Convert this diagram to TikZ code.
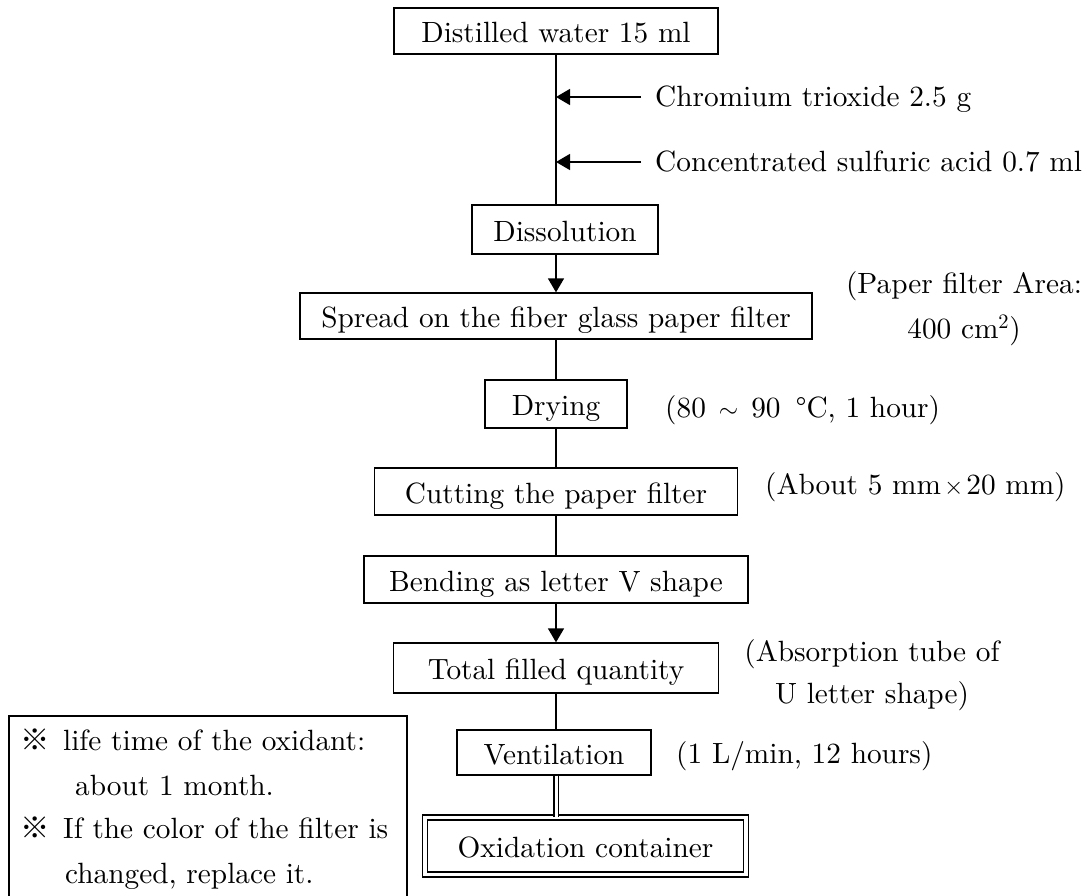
\documentclass[tikz,border=0pt]{standalone}
\usepackage{fontspec}
\setmainfont{lmroman10-regular}[Extension=.otf]
\newfontfamily\cjk{Noto Sans CJK JP}
\usetikzlibrary{arrows.meta}
\begin{document}
\begin{tikzpicture}[x=1pt,y=-1pt,
  every node/.style={font=\fontsize{29.3}{44}\selectfont},
  stepbox/.style={draw, line width=1.3pt, inner sep=0pt, text height=23pt, text depth=0pt},
  link/.style={line width=1.5pt},
  arr/.style={line width=1.5pt, -{Triangle[length=14pt,width=16pt]}},
  lbl/.style={anchor=base west, inner sep=0pt},
  clbl/.style={anchor=base, inner sep=0pt},
]
\useasboundingbox (0,0) rectangle (1087,896);

% process steps
\node[stepbox, minimum width=324pt, minimum height=46pt] (water) at (556,31) {Distilled water 15 ml};
\node[stepbox, minimum width=186pt, minimum height=49pt] (dissolve) at (565,229.5) {Dissolution};
\node[stepbox, minimum width=512pt, minimum height=46pt] (spread) at (556,316) {Spread on the fiber glass paper filter};
\node[stepbox, minimum width=142pt, minimum height=48pt] (dry) at (556,404) {Drying};
\node[stepbox, minimum width=363pt, minimum height=47pt] (cut) at (556,491.5) {Cutting the paper filter};
\node[stepbox, minimum width=384pt, minimum height=47pt] (bend) at (556,579.5) {Bending as letter V shape};
\node[stepbox, minimum width=325pt, minimum height=50pt] (total) at (556,668) {Total filled quantity};
\node[stepbox, minimum width=194pt, minimum height=45pt] (vent) at (554,752.5) {Ventilation};
\node[stepbox, double, double distance=3.8pt, line width=1.2pt, minimum width=321pt, minimum height=57pt] (oxid) at (585.5,846) {Oxidation container};

% trunk and connectors
\draw[link] (water.south) -- (water.south |- dissolve.north);
\draw[arr] (water.south |- dissolve.south) -- (spread.north);
\draw[link] (spread.south) -- (dry.north);
\draw[link] (dry.south) -- (cut.north);
\draw[link] (cut.south) -- (bend.north);
\draw[arr] (bend.south) -- (total.north);
\draw[link] (total.south) -- (total.south |- vent.north);
\draw[line width=1.1pt, double, double distance=3pt] (total.south |- vent.south) -- (total.south |- oxid.north);

% reagents added to the water
\coordinate (in1) at (641,97);
\coordinate (in2) at (641,162);
\draw[arr] (in1) -- (in1 -| water.south);
\draw[arr] (in2) -- (in2 -| water.south);
\node[lbl] (chrom) at (655,107) {Chromium trioxide 2.5 g};
\node[lbl] (acid) at (655,172) {Concentrated sulfuric acid 0.7 ml};

% conditions
\node[clbl] (area1) at (964,293) {(Paper filter Area:};
\node[clbl] (area2) at (964,338) {400 cm\textsuperscript{2})};
\node[lbl] (dryinfo) at (665,417) {(80\hspace{13pt}$\sim$\hspace{13pt}90\hspace{15pt}°C, 1 hour)};
\node[lbl] (cutinfo) at (765,494) {(About 5 mm\kern3pt$\times$\kern3pt20 mm)};
\node[clbl] (tube1) at (872,661) {(Absorption tube of};
\node[clbl] (tube2) at (872,703) {U letter shape)};
\node[lbl] (ventinfo) at (676,763) {(1 L/min, 12 hours)};

% notes
\draw[line width=1.3pt] (9,896) -- (9,716) -- (407,716) -- (407,896);
\node[lbl] (m1) at (20,750) {{\cjk ※}};
\node[lbl] (n1) at (63,750) {life time of the oxidant:};
\node[lbl] (n2) at (75,795) {about 1 month.};
\node[lbl] (m2) at (20,838) {{\cjk ※}};
\node[lbl] (n3) at (63,838) {If the color of the filter is};
\node[lbl] (n4) at (65,883) {changed, replace it.};
\end{tikzpicture}
\end{document}
